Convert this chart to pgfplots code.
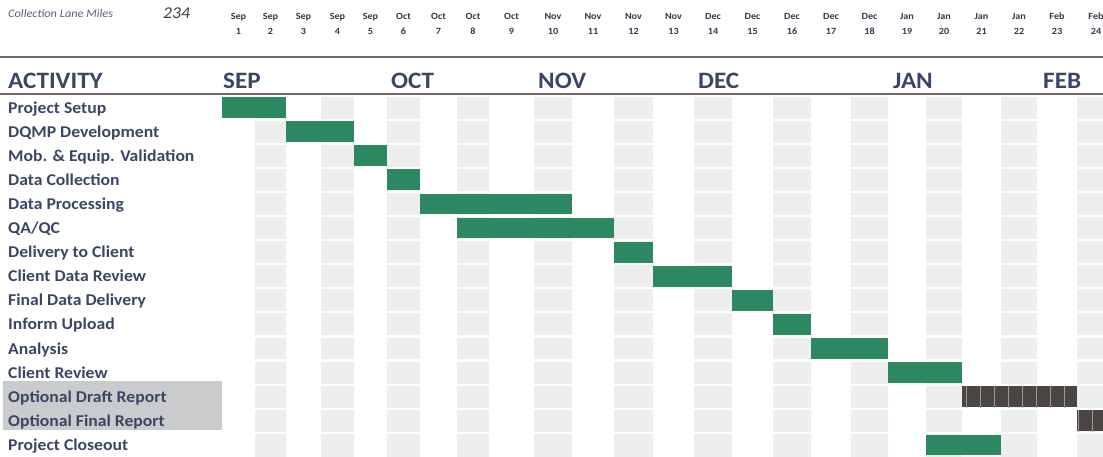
\documentclass[border=0pt]{standalone}
\usepackage{pgfplots}
\pgfplotsset{compat=1.18}
\usepackage{fontspec}
\setmainfont{Carlito}[FakeStretch=1.07]
\usetikzlibrary{patterns.meta}
\definecolor{ganttgreen}{HTML}{2D8862}
\definecolor{ganttdark}{HTML}{4B4644}
\definecolor{stripe}{HTML}{EDEFEE}
\definecolor{labtext}{HTML}{3B4664}
\definecolor{rulec}{HTML}{76686A}
\definecolor{optbg}{HTML}{CACBCC}
\definecolor{collab}{HTML}{56617E}
\definecolor{weektext}{HTML}{33384A}
% left edges of the week columns (week 0 = start of week 1)
\def\colBof#1{\ifcase\numexpr#1\relax 222\or 255\or 286\or 321\or 354\or 387\or 420\or 457\or 489\or 534\or 572\or 614\or 653\or 694\or 732\or 773\or 811\or 851\or 888\or 926\or 962\or 1001\or 1037\or 1077\or 1115\or 1153\else 1191\fi}
\def\getint#1.#2\end{#1}
\def\weektrafo#1{%
  \begingroup\pgfkeys{/pgf/fpu=true,/pgf/fpu/output format=fixed}%
  \pgfmathparse{floor(#1)}\xdef\wkraw{\pgfmathresult}\endgroup
  \edef\wk{\expandafter\getint\wkraw.\end}%
  \edef\ba{\colBof{\wk}}\edef\bb{\colBof{\wk+1}}%
  \pgfmathparse{\ba+(#1-\wk)*(\bb-\ba)}}
\begin{document}
\begin{tikzpicture}[x=1pt,y=1pt]
\useasboundingbox (0,0) rectangle (1103,456);
\fill[optbg] (3,26) rectangle (222,75);
\draw[rulec, line width=1.8pt] (0,399) -- (1103,399);
\draw[rulec, line width=1.6pt] (0,362) -- (1103,362);
\node[anchor=west, inner sep=0pt, font=\itshape\fontsize{11.5}{13}\selectfont, text=collab] at (8,442) {Collection Lane Miles};
\node[anchor=west, inner sep=0pt, font=\itshape\fontsize{16.5}{18}\selectfont, text=black!75] at (163,443) {234};
\begin{scope}[every node/.style={anchor=base west, inner sep=0pt, font=\bfseries\fontsize{23.5}{26}\selectfont, text=labtext}]
\node at (8,367) {ACTIVITY};
\node at (223,367) {SEP};
\node at (391,367) {OCT};
\node at (538,367) {NOV};
\node at (698,367) {DEC};
\node at (893,367) {JAN};
\node at (1043,367) {FEB};
\end{scope}
\begin{axis}[
  at={(222,0)}, anchor=south west,
  scale only axis, width=881pt, height=360.5pt,
  x coord trafo/.code={\weektrafo{#1}},
  xmin=0, xmax=23.684,
  ymin=0.5, ymax=15.46, y dir=reverse,
  axis line style={draw=none},
  tick style={draw=none}, major tick length=0pt,
  xtick={0.5,1.5,2.5,3.5,4.5,5.5,6.5,7.5,8.5,9.5,10.5,11.5,12.5,13.5,14.5,15.5,16.5,17.5,18.5,19.5,20.5,21.5,22.5,23.5},
  xticklabel pos=upper,
  xticklabels={Sep\\1,Sep\\2,Sep\\3,Sep\\4,Sep\\5,Oct\\6,Oct\\7,Oct\\8,Oct\\9,Nov\\10,Nov\\11,Nov\\12,Nov\\13,Dec\\14,Dec\\15,Dec\\16,Dec\\17,Dec\\18,Jan\\19,Jan\\20,Jan\\21,Jan\\22,Feb\\23,Feb\\24},
  xticklabel style={anchor=south, yshift=61pt, inner sep=0pt, align=center, font=\bfseries\fontsize{9.5}{15}\selectfont, text=weektext},
  ytick={1,...,15},
  yticklabels={Project Setup,DQMP Development,Mob. \& Equip. Validation,Data Collection,Data Processing,QA/QC,Delivery to Client,Client Data Review,Final Data Delivery,Inform Upload,Analysis,Client Review,Optional Draft Report,Optional Final Report,Project Closeout},
  yticklabel style={anchor=west, xshift=-214pt, inner sep=0pt, text height=11pt, text depth=0pt, font=\bfseries\fontsize{16.5}{18}\selectfont, text=labtext},
]
% shaded week columns
\addplot[ybar interval, fill=stripe, draw=none] coordinates {(0,0) (1,16) (2,0) (3,16) (4,0) (5,16) (6,0) (7,16) (8,0) (9,16) (10,0) (11,16) (12,0) (13,16) (14,0) (15,16) (16,0) (17,16) (18,0) (19,16) (20,0) (21,16) (22,0) (23,16) (24,0)};
% white row separators
\addplot[white, line width=2.2pt, unbounded coords=jump] coordinates {(0,0.5) (24,0.5) (0,nan) (0,1.5) (24,1.5) (0,nan) (0,2.5) (24,2.5) (0,nan) (0,3.5) (24,3.5) (0,nan) (0,4.5) (24,4.5) (0,nan) (0,5.5) (24,5.5) (0,nan) (0,6.5) (24,6.5) (0,nan) (0,7.5) (24,7.5) (0,nan) (0,8.5) (24,8.5) (0,nan) (0,9.5) (24,9.5) (0,nan) (0,10.5) (24,10.5) (0,nan) (0,11.5) (24,11.5) (0,nan) (0,12.5) (24,12.5) (0,nan) (0,13.5) (24,13.5) (0,nan) (0,14.5) (24,14.5)};
% task bars: weeks start -- end, row index
\addplot[fill=ganttgreen, draw=none] coordinates {(0,0.57) (2,0.57) (2,1.43) (0,1.43)} --cycle;
\addplot[fill=ganttgreen, draw=none] coordinates {(2,1.57) (4,1.57) (4,2.43) (2,2.43)} --cycle;
\addplot[fill=ganttgreen, draw=none] coordinates {(4,2.57) (5,2.57) (5,3.43) (4,3.43)} --cycle;
\addplot[fill=ganttgreen, draw=none] coordinates {(5,3.57) (6,3.57) (6,4.43) (5,4.43)} --cycle;
\addplot[fill=ganttgreen, draw=none] coordinates {(6,4.57) (10,4.57) (10,5.43) (6,5.43)} --cycle;
\addplot[fill=ganttgreen, draw=none] coordinates {(7,5.57) (11,5.57) (11,6.43) (7,6.43)} --cycle;
\addplot[fill=ganttgreen, draw=none] coordinates {(11,6.57) (12,6.57) (12,7.43) (11,7.43)} --cycle;
\addplot[fill=ganttgreen, draw=none] coordinates {(12,7.57) (14,7.57) (14,8.43) (12,8.43)} --cycle;
\addplot[fill=ganttgreen, draw=none] coordinates {(14,8.57) (15,8.57) (15,9.43) (14,9.43)} --cycle;
\addplot[fill=ganttgreen, draw=none] coordinates {(15,9.57) (16,9.57) (16,10.43) (15,10.43)} --cycle;
\addplot[fill=ganttgreen, draw=none] coordinates {(16,10.57) (18,10.57) (18,11.43) (16,11.43)} --cycle;
\addplot[fill=ganttgreen, draw=none] coordinates {(18,11.57) (20,11.57) (20,12.43) (18,12.43)} --cycle;
\addplot[fill=ganttdark, draw=none, postaction={pattern={Lines[angle=90,distance=14pt,line width=0.7pt]}, pattern color=gray!80}] coordinates {(20,12.57) (23,12.57) (23,13.43) (20,13.43)} --cycle;
\addplot[fill=ganttdark, draw=none, postaction={pattern={Lines[angle=90,distance=14pt,line width=0.7pt]}, pattern color=gray!80}] coordinates {(23,13.57) (24,13.57) (24,14.43) (23,14.43)} --cycle;
\addplot[fill=ganttgreen, draw=none] coordinates {(19,14.57) (21,14.57) (21,15.43) (19,15.43)} --cycle;
\end{axis}
\end{tikzpicture}
\end{document}
